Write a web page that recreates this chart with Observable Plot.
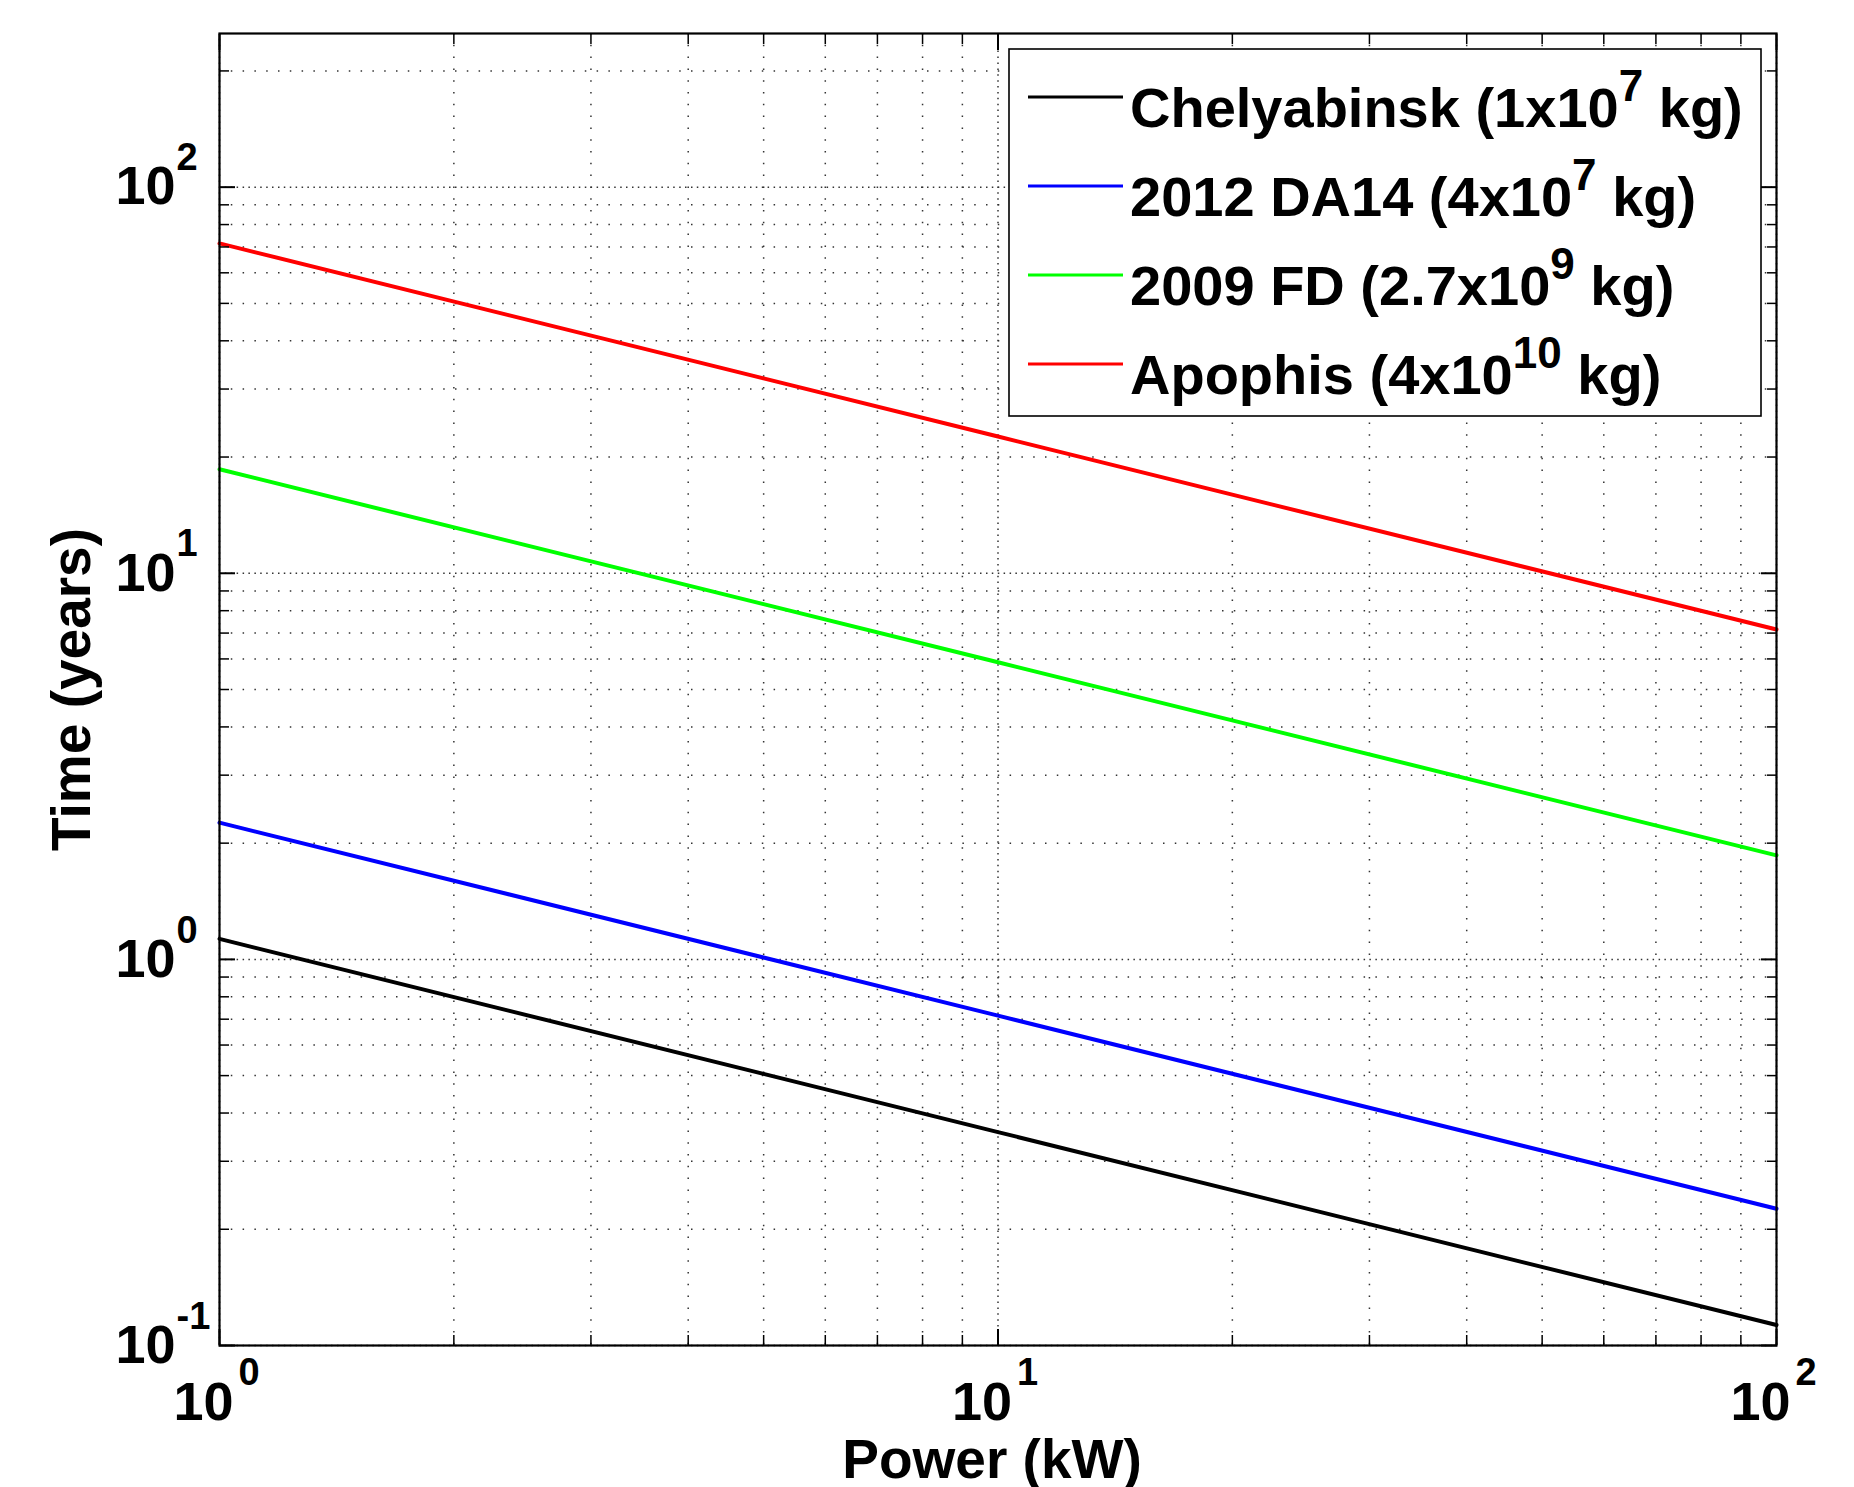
<!DOCTYPE html>
<html><head><meta charset="utf-8">
<script src="https://cdn.jsdelivr.net/npm/d3@7"></script>
<script src="https://cdn.jsdelivr.net/npm/@observablehq/plot@0.6"></script>
<style>
html,body{margin:0;padding:0;background:#fff;}
#chart{position:relative;width:1854px;height:1487px;}
</style></head><body><div id="chart"></div>
<script>
// ---- data ----
const power = [1, 10, 100];
const seriesNames = ["Chelyabinsk", "2012 DA14", "2009 FD", "Apophis"];
const legendBase = ["Chelyabinsk (1x10", "2012 DA14 (4x10", "2009 FD (2.7x10", "Apophis (4x10"];
const legendExp = ["7", "7", "9", "10"];
const colors = ["#000000", "#0000ff", "#00ff00", "#ff0000"];
const chelyabinsk = [1.13, 0.357, 0.113];
const da14 = [2.26, 0.715, 0.226];
const fd2009 = [18.6, 5.88, 1.86];
const apophis = [71.5, 22.6, 7.15];
const xMajor = [1, 10, 100];
const xMajorExp = ["0", "1", "2"];
const xMinor = [2, 3, 4, 5, 6, 7, 8, 9, 20, 30, 40, 50, 60, 70, 80, 90];
const yMajor = [0.1, 1, 10, 100];
const yMajorExp = ["-1", "0", "1", "2"];
const yMinor = [0.2, 0.3, 0.4, 0.5, 0.6, 0.7, 0.8, 0.9, 2, 3, 4, 5, 6, 7, 8, 9, 20, 30, 40, 50, 60, 70, 80, 90, 200];
const xLabel = "Power (kW)";
const yLabel = "Time (years)";

const seriesValues = [chelyabinsk, da14, fd2009, apophis];
const rows = [];
seriesNames.forEach((name, i) => {
  power.forEach((p, j) => rows.push({series: name, power: p, time: seriesValues[i][j]}));
});

const FONT = "'Liberation Sans', Arial, Helvetica, sans-serif";
const gridStyle = {stroke: "#333", strokeWidth: 1.5, strokeDasharray: "1.5,10.3"};
const labelStyle = {fontWeight: "bold", fill: "#000"};
const major = 16, minor = 10;

const plot = Plot.plot({
  width: 1854,
  height: 1487,
  marginLeft: 219,
  marginRight: 78,
  marginTop: 33,
  marginBottom: 142,
  style: {fontFamily: FONT, background: "#fff", overflow: "visible"},
  x: {type: "log", domain: [1, 100]},
  y: {type: "log", domain: [0.1, 250]},
  color: {domain: seriesNames, range: colors},
  marks: [
    // grid
    Plot.ruleX(xMinor, {...gridStyle}),
    Plot.ruleX(xMajor, {...gridStyle}),
    Plot.ruleY(yMinor, {...gridStyle}),
    Plot.ruleY(yMajor, {...gridStyle}),
    Plot.ruleY(yMajor, {...gridStyle, strokeDashoffset: 6}),
    Plot.ruleX(xMajor, {...gridStyle, strokeDashoffset: 6}),
    // series
    Plot.line(rows, {x: "power", y: "time", z: "series", stroke: "series", strokeWidth: 4}),
    // inward ticks on all sides
    Plot.axisX({anchor: "bottom", ticks: xMajor, tickSize: major, dy: -major, tickFormat: () => "", strokeWidth: 2, label: null}),
    Plot.axisX({anchor: "bottom", ticks: xMinor, tickSize: minor, dy: -minor, tickFormat: () => "", strokeWidth: 1.5, label: null}),
    Plot.axisX({anchor: "top", ticks: xMajor, tickSize: major, dy: major, tickFormat: () => "", strokeWidth: 2, label: null}),
    Plot.axisX({anchor: "top", ticks: xMinor, tickSize: minor, dy: minor, tickFormat: () => "", strokeWidth: 1.5, label: null}),
    Plot.axisY({anchor: "left", ticks: yMajor, tickSize: major, dx: major, tickFormat: () => "", strokeWidth: 2, label: null}),
    Plot.axisY({anchor: "left", ticks: yMinor, tickSize: minor, dx: minor, tickFormat: () => "", strokeWidth: 1.5, label: null}),
    Plot.axisY({anchor: "right", ticks: yMajor, tickSize: major, dx: -major, tickFormat: () => "", strokeWidth: 2, label: null}),
    Plot.axisY({anchor: "right", ticks: yMinor, tickSize: minor, dx: -minor, tickFormat: () => "", strokeWidth: 1.5, label: null}),
    Plot.frame({stroke: "#000", strokeWidth: 2.2}),
    // x tick labels 10^n
    Plot.text(xMajor, {x: d => d, frameAnchor: "bottom", text: () => "10", textAnchor: "end", lineAnchor: "middle", dx: 14, dy: 57, fontSize: 54, ...labelStyle}),
    Plot.text(xMajor, {x: d => d, frameAnchor: "bottom", text: (d, i) => xMajorExp[i], textAnchor: "start", lineAnchor: "middle", dx: 19, dy: 27, fontSize: 38, ...labelStyle}),
    // y tick labels 10^n
    Plot.text(yMajor, {y: d => d, frameAnchor: "left", text: () => "10", textAnchor: "end", lineAnchor: "middle", dx: -44, dy: 0, fontSize: 54, ...labelStyle}),
    Plot.text(yMajor, {y: d => d, frameAnchor: "left", text: (d, i) => yMajorExp[i], textAnchor: "start", lineAnchor: "middle", dx: -43, dy: -29, fontSize: 38, ...labelStyle}),
    // axis titles
    Plot.text([xLabel], {frameAnchor: "bottom", text: d => d, textAnchor: "middle", lineAnchor: "middle", dy: 115, dx: -6, fontSize: 55, ...labelStyle}),
    Plot.text([yLabel], {frameAnchor: "left", text: d => d, rotate: -90, textAnchor: "middle", lineAnchor: "middle", dx: -147, fontSize: 55, ...labelStyle})
  ]
});

// ---- legend (inside the plot area, top-right) ----
const svg = d3.select(plot);
const lg = svg.append("g").attr("font-family", FONT).attr("font-weight", "bold").attr("text-anchor", "start");
lg.append("rect").attr("x", 1009).attr("y", 49).attr("width", 752).attr("height", 367)
  .attr("fill", "#fff").attr("stroke", "#000").attr("stroke-width", 1.6);
legendBase.forEach((base, i) => {
  const baseline = 127 + i * 89;
  lg.append("line").attr("x1", 1028).attr("x2", 1123)
    .attr("y1", baseline - 30).attr("y2", baseline - 30)
    .attr("stroke", colors[i]).attr("stroke-width", 3);
  const t = lg.append("text").attr("x", 1130).attr("y", baseline).attr("font-size", 56)
    .attr("fill", "#000").attr("text-anchor", "start");
  t.append("tspan").text(base);
  t.append("tspan").attr("font-size", 44).attr("dy", -26).text(legendExp[i]);
  t.append("tspan").attr("dy", 26).text(" kg)");
});

document.getElementById("chart").appendChild(plot);
</script>
</body></html>
